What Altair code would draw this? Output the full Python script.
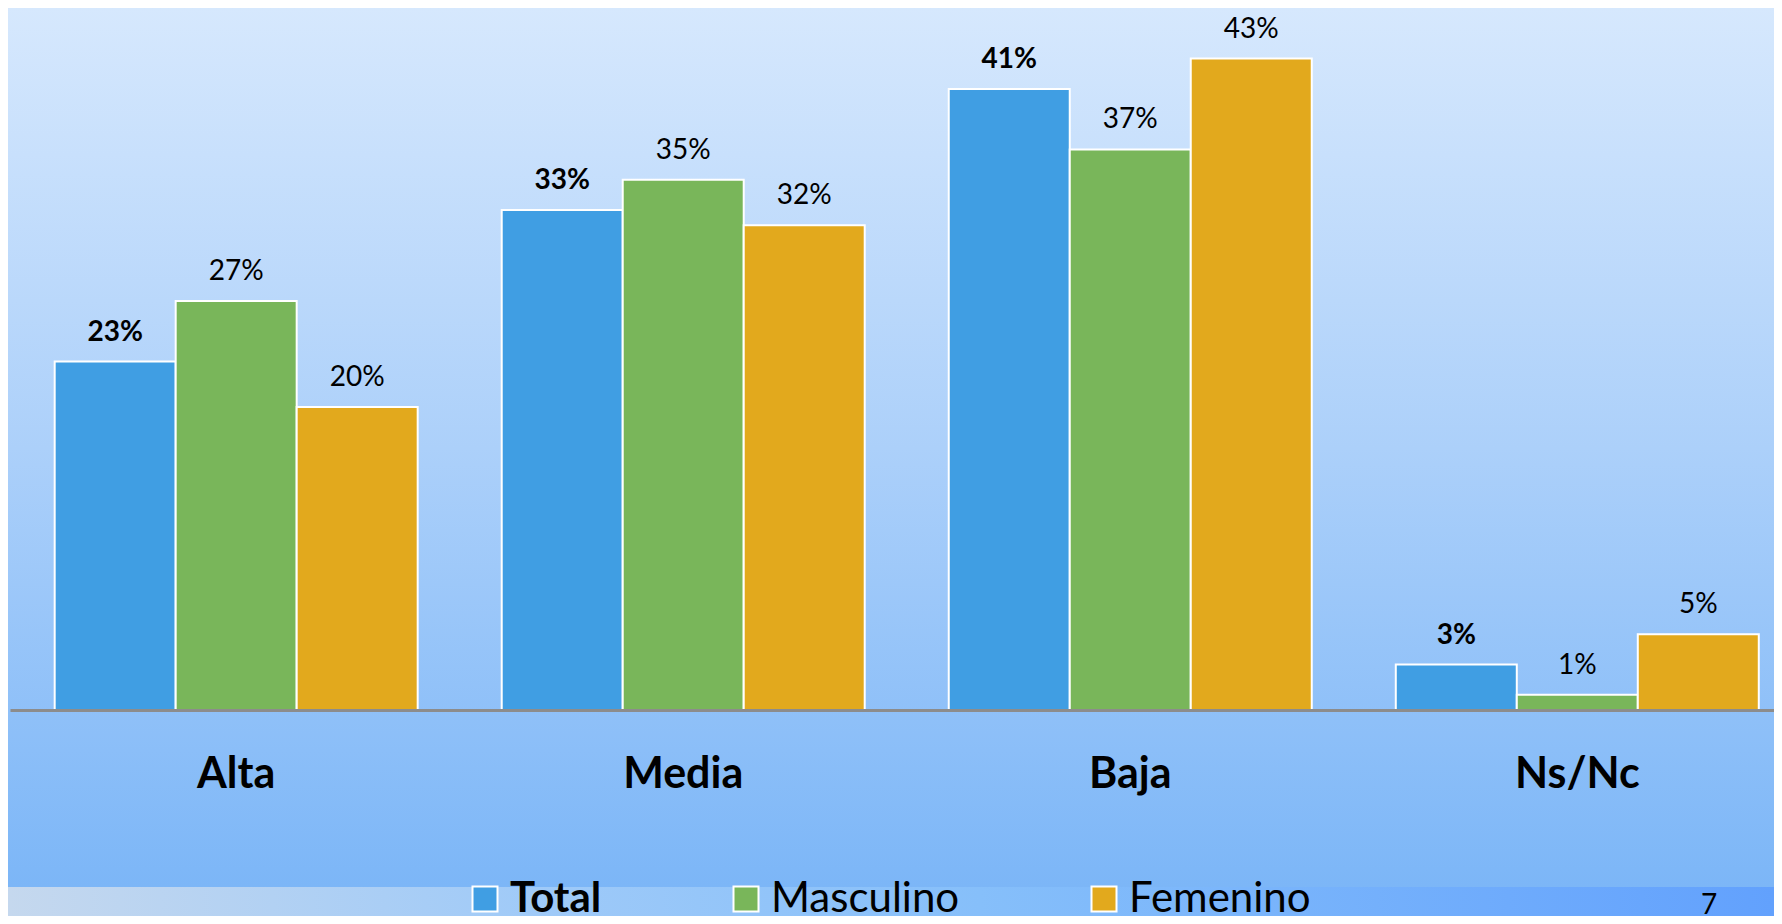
import altair as alt
import pandas as pd

categories = ["Alta", "Media", "Baja", "Ns/Nc"]
series = ["Total", "Masculino", "Femenino"]
total = [23, 33, 41, 3]
masculino = [27, 35, 37, 1]
femenino = [20, 32, 43, 5]
colors = ["#409ee3", "#79b65a", "#e2a91d"]
page_number = "7"

rows = []
for i, c in enumerate(categories):
    for s, vals in zip(series, [total, masculino, femenino]):
        rows.append({"cat": c, "serie": s, "value": vals[i], "label": f"{vals[i]}%"})
df = pd.DataFrame(rows)

W, H = 1764, 702
FONT = "Lato"

x_scale = alt.Scale(domain=categories, paddingInner=0.188, paddingOuter=0.067, align=0.746)
xo_scale = alt.Scale(domain=series, paddingInner=0, paddingOuter=0)
y_scale = alt.Scale(domain=[0, 46.34], nice=False, zero=True)

base = alt.Chart(df)

x_enc = alt.X(
    "cat:N",
    scale=x_scale,
    axis=alt.Axis(
        title=None, ticks=False, tickSize=0, labelAngle=0, labelFont=FONT,
        labelFontSize=43, labelFontWeight="bold", labelColor="black",
        labelPadding=77, labelBaseline="alphabetic", domainColor="#8c8c8c",
        domainWidth=3, zindex=1, grid=False,
    ),
)
xo_enc = alt.XOffset("serie:N", scale=xo_scale)
y_enc = alt.Y("value:Q", scale=y_scale, axis=None)

bg = alt.Chart(alt.Data(values=[{"a": 1}])).mark_rect(
    color=alt.LinearGradient(
        gradient="linear", x1=0, x2=0, y1=0, y2=1,
        stops=[
            alt.GradientStop(color="#d6e8fd", offset=0),
            alt.GradientStop(color="#acd0fa", offset=0.5),
            alt.GradientStop(color="#7cb6f7", offset=1),
        ],
    )
).encode(x=alt.value(-2), x2=alt.value(W), y=alt.value(0), y2=alt.value(879))

band = alt.Chart(alt.Data(values=[{"a": 1}])).mark_rect(
    color=alt.LinearGradient(
        gradient="linear", x1=0, x2=1, y1=0, y2=0,
        stops=[
            alt.GradientStop(color="#c5d8ee", offset=0),
            alt.GradientStop(color="#9fcaf8", offset=0.3),
            alt.GradientStop(color="#86bffa", offset=0.55),
            alt.GradientStop(color="#62a1fd", offset=1),
        ],
    )
).encode(x=alt.value(-2), x2=alt.value(W), y=alt.value(879), y2=alt.value(910))

bars = base.mark_bar(stroke="white", strokeWidth=2, opacity=1).encode(
    x=x_enc,
    xOffset=xo_enc,
    y=y_enc,
    color=alt.Color(
        "serie:N",
        scale=alt.Scale(domain=series, range=colors),
        legend=alt.Legend(
            title=None, orient="none", legendX=454, legendY=870,
            direction="horizontal", symbolType="square", symbolSize=625,
            symbolStrokeColor="white", symbolStrokeWidth=2, symbolOpacity=1,
            labelFont=FONT, labelFontSize=42, labelColor="black",
            labelFontWeight={"expr": "datum.label == 'Total' ? 'bold' : 'normal'"},
            labelOffset=4, columnPadding=123, padding=0, offset=0, labelLimit=0,
        ),
    ),
)

text_total = base.transform_filter("datum.serie == 'Total'").mark_text(
    font=FONT, fontSize=28, fontWeight="bold", baseline="alphabetic", dy=-21, color="black"
).encode(x=x_enc, xOffset=xo_enc, y=y_enc, text="label:N")

text_other = base.transform_filter("datum.serie != 'Total'").mark_text(
    font=FONT, fontSize=28, fontWeight="normal", baseline="alphabetic", dy=-21, color="black"
).encode(x=x_enc, xOffset=xo_enc, y=y_enc, text="label:N")

page = alt.Chart(alt.Data(values=[{"t": page_number}])).mark_text(
    font=FONT, fontSize=28, align="center", baseline="alphabetic", color="black"
).encode(x=alt.value(1699), y=alt.value(906), text="t:N")

chart = alt.layer(bg, band, bars, text_total, text_other, page).properties(
    width=W, height=H,
    autosize=alt.AutoSizeParams(type="none"),
    padding={"left": 2, "top": 0, "right": 0, "bottom": 206},
    background="#7cb6f7",
).configure_view(stroke=None)

chart.save("out.html", embed_options={"renderer": "svg", "actions": False})
